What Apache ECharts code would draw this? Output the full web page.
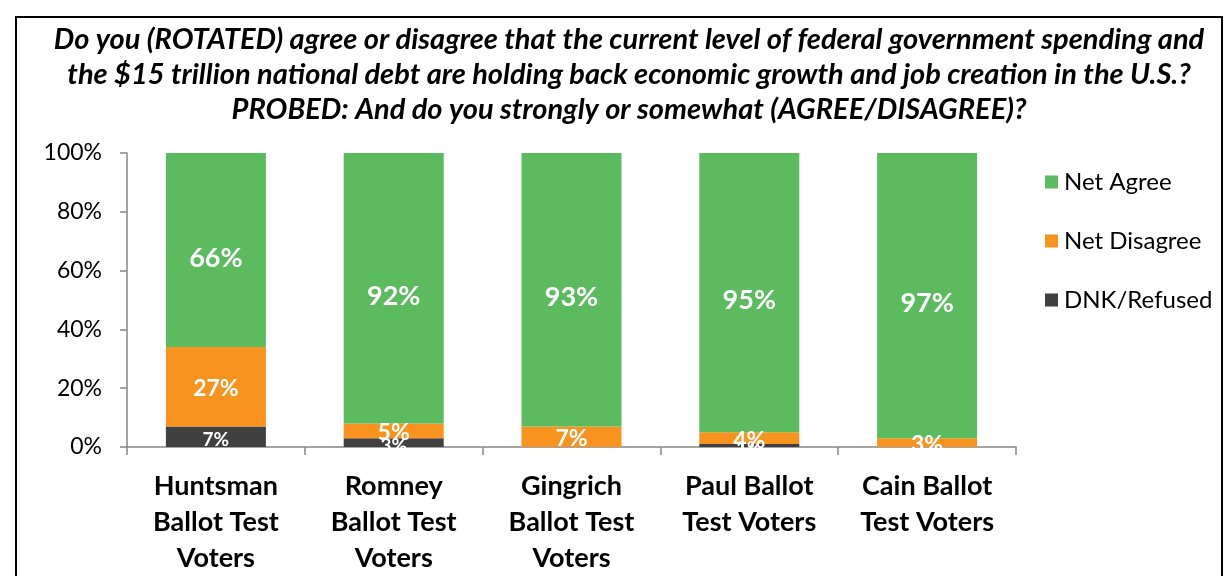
<!DOCTYPE html>
<html>
<head>
<meta charset="utf-8">
<script src="https://cdn.jsdelivr.net/npm/echarts@6/dist/echarts.min.js"></script>
<style>
  html, body { margin: 0; padding: 0; background: #fff; }
  #chart { width: 1229px; height: 576px; }
</style>
</head>
<body>
<div id="chart"></div>
<script>
// categories and values
var categories = ['Huntsman\nBallot Test\nVoters', 'Romney\nBallot Test\nVoters', 'Gingrich\nBallot Test\nVoters', 'Paul Ballot\nTest Voters', 'Cain Ballot\nTest Voters'];
var dnkRefused = [7, 3, 0, 1, 0];
var netDisagree = [27, 5, 7, 4, 3];
var netAgree = [66, 92, 93, 95, 97];
var yTicks = [0, 20, 40, 60, 80, 100];

var titleText = 'Do you (ROTATED) agree or disagree that the current level of federal government spending and\nthe $15 trillion national debt are holding back economic growth and job creation in the U.S.?\nPROBED: And do you strongly or somewhat (AGREE/DISAGREE)?';

// Lato is the closest installed face to Calibri
var FONT = 'Lato, "Open Sans", sans-serif';

var myChart = echarts.init(document.getElementById('chart'));

function pctLabel(size, offset) {
    return {
        show: true,
        position: 'inside',
        color: '#fff',
        fontWeight: 'bold',
        fontFamily: FONT,
        fontSize: size,
        offset: offset || [0, 0],
        formatter: function (p) { return p.value > 0 ? p.value + '%' : ''; }
    };
}

myChart.setOption({
    animation: false,
    legend: {
        orient: 'vertical',
        left: 1040,
        top: 165,
        itemWidth: 13,
        itemHeight: 13,
        itemGap: 35,
        icon: 'rect',
        data: ['Net Agree', 'Net Disagree', 'DNK/Refused'],
        textStyle: { fontFamily: FONT, fontSize: 24, color: '#000', padding: [0, 0, 0, 1] }
    },
    grid: { left: 127, right: 213, top: 153, bottom: 129, outerBoundsMode: 'none' },
    xAxis: {
        type: 'category',
        data: categories,
        axisLine: { lineStyle: { color: '#868686', width: 1.5 } },
        axisTick: { show: true, length: 8, lineStyle: { color: '#868686', width: 1.5 } },
        axisLabel: {
            margin: 21,
            color: '#000',
            fontFamily: FONT,
            fontSize: 27,
            fontWeight: 'bold',
            lineHeight: 36
        }
    },
    yAxis: {
        type: 'value',
        min: 0,
        max: 100,
        interval: 20,
        axisLine: { show: true, lineStyle: { color: '#868686', width: 1.5 } },
        axisTick: { show: true, length: 7, lineStyle: { color: '#868686', width: 1.5 } },
        splitLine: { show: false },
        axisLabel: {
            margin: 25,
            color: '#000',
            fontFamily: FONT,
            fontSize: 23,
            formatter: function (v) { return yTicks.indexOf(v) >= 0 ? v + '%' : ''; }
        }
    },
    series: [{
        name: 'DNK/Refused',
        type: 'bar',
        stack: 'all',
        barWidth: 100,
        data: dnkRefused,
        itemStyle: { color: '#404040' },
        label: pctLabel(19, [0, 3])
    }, {
        name: 'Net Disagree',
        type: 'bar',
        stack: 'all',
        data: netDisagree,
        itemStyle: { color: '#F7931E' },
        label: pctLabel(23, [0, 2])
    }, {
        name: 'Net Agree',
        type: 'bar',
        stack: 'all',
        data: netAgree,
        itemStyle: { color: '#5CBB5F' },
        label: pctLabel(27, [0, 8])
    }],
    graphic: [{
        type: 'rect',
        shape: { x: 16, y: 17, width: 1206, height: 580 },
        style: { fill: 'none', stroke: '#000', lineWidth: 2 },
        silent: true
    }, {
        // title, centred on the framed area
        type: 'text',
        x: 629,
        y: 22,
        silent: true,
        style: {
            text: titleText,
            align: 'center',
            verticalAlign: 'top',
            fontFamily: FONT,
            fontSize: 29,
            fontWeight: 'bold',
            fontStyle: 'italic',
            lineHeight: 35,
            fill: '#000'
        }
    }]
});
</script>
</body>
</html>
